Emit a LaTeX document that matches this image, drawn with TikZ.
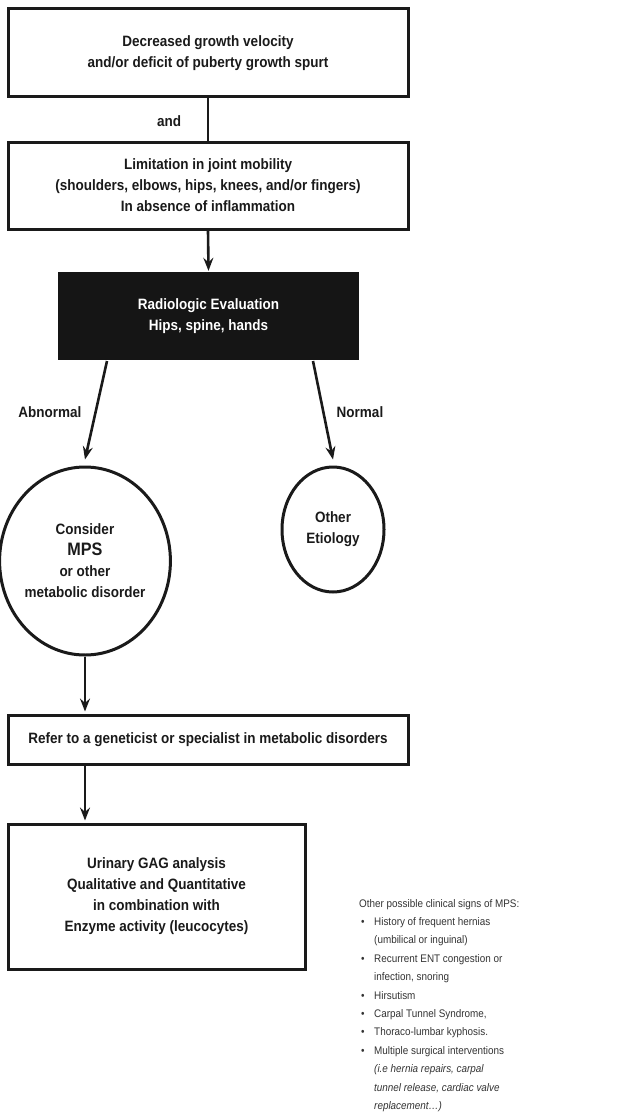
\documentclass[tikz,border=0pt]{standalone}
\usepackage{fontspec}
\setmainfont{Liberation Sans}
\newfontfamily\boxfont{Liberation Sans}[FakeStretch=0.9]
\newfontfamily\sidefont{Liberation Sans}[FakeStretch=0.9]
\usetikzlibrary{shapes.geometric,arrows.meta}
\definecolor{ink}{HTML}{1A1A1A}
\definecolor{blackfill}{HTML}{151515}
\definecolor{sidegray}{HTML}{333333}
\tikzset{
  box/.style={draw=ink, line width=3pt, fill=white, align=center, inner sep=0pt,
    font=\boxfont\bfseries\fontsize{15}{21}\selectfont, text=ink},
  darkbox/.style={fill=blackfill, align=center, inner sep=0pt,
    font=\boxfont\bfseries\fontsize{15}{21}\selectfont, text=white},
  oval/.style={ellipse, draw=ink, line width=3pt, align=center, inner sep=0pt,
    font=\boxfont\bfseries\fontsize{15}{21}\selectfont, text=ink},
  lbl/.style={font=\boxfont\bfseries\fontsize{15}{18}\selectfont, text=ink},
  arr/.style={draw=ink, line width=2.6pt, -{Stealth[length=13pt,width=10pt,inset=4.5pt]}},
  conn/.style={draw=ink, line width=2.6pt},
  sidetext/.style={align=left, inner sep=0pt, text=sidegray,
    font=\sidefont\fontsize{11}{18.4}\selectfont}
}
\begin{document}
\begin{tikzpicture}[x=1pt,y=-1pt]
\useasboundingbox (0,0) rectangle (644,1113);
\node[box, minimum width=400pt, minimum height=88pt] (b1) at (208,53)
  {\fontsize{15}{24}\selectfont Decreased growth velocity\\and/or deficit of puberty growth spurt};
\node[box, minimum width=400pt, minimum height=87pt] (b2) at (208,185.5)
  {Limitation in joint mobility\\(shoulders, elbows, hips, knees, and/or fingers)\\In absence of inflammation};
\node[darkbox, minimum width=301pt, minimum height=88pt] (rad) at (208.5,316)
  {Radiologic Evaluation\\Hips, spine, hands};
\node[oval, minimum width=154pt, minimum height=188pt] (cons) at (85,561)
  {Consider\\{\fontsize{18}{21}\selectfont MPS}\\or other\\metabolic disorder};
\node[oval, minimum width=102pt, minimum height=125pt] (oth) at (333,529.5)
  {Other\\Etiology};
\node[box, minimum width=400pt, minimum height=49pt] (b3) at (208,739.5)
  {Refer to a geneticist or specialist in metabolic disorders};
\node[box, minimum width=297pt, minimum height=145pt] (b4) at (156.5,896.5)
  {Urinary GAG analysis\\Qualitative and Quantitative\\in combination with\\Enzyme activity (leucocytes)};

\node[lbl] (andl) at (169,121) {and};
\node[lbl] (abn) at (50,412) {Abnormal};
\node[lbl] (nor) at (360,412) {Normal};

\coordinate (radL) at (107,361);
\coordinate (radR) at (313,361);
\draw[conn] (b1.south) -- (b2.north);
\draw[arr] (b2.south) -- ([yshift=1pt]rad.north);
\draw[arr] (radL) -- ([yshift=6pt]cons.north);
\draw[arr] (radR) -- ([yshift=6pt]oth.north);
\draw[arr] (cons.south) -- ([yshift=2pt]b3.north west -| cons.south);
\draw[arr] (b3.south west -| cons.south) -- ([yshift=2pt]b4.north west -| cons.south);

\node[sidetext, anchor=north west] (signs) at (359,899) {%
Other possible clinical signs of MPS:\\
\makebox[15pt][l]{\hspace{2pt}•}History of frequent hernias\\
\hspace*{15pt}(umbilical or inguinal)\\
\makebox[15pt][l]{\hspace{2pt}•}Recurrent ENT congestion or\\
\hspace*{15pt}infection, snoring\\
\makebox[15pt][l]{\hspace{2pt}•}Hirsutism\\
\makebox[15pt][l]{\hspace{2pt}•}Carpal Tunnel Syndrome,\\
\makebox[15pt][l]{\hspace{2pt}•}Thoraco-lumbar kyphosis.\\
\makebox[15pt][l]{\hspace{2pt}•}Multiple surgical interventions\\
\hspace*{15pt}\textit{(i.e hernia repairs, carpal}\\
\hspace*{15pt}\textit{tunnel release, cardiac valve}\\
\hspace*{15pt}\textit{replacement…)}};
\end{tikzpicture}
\end{document}
